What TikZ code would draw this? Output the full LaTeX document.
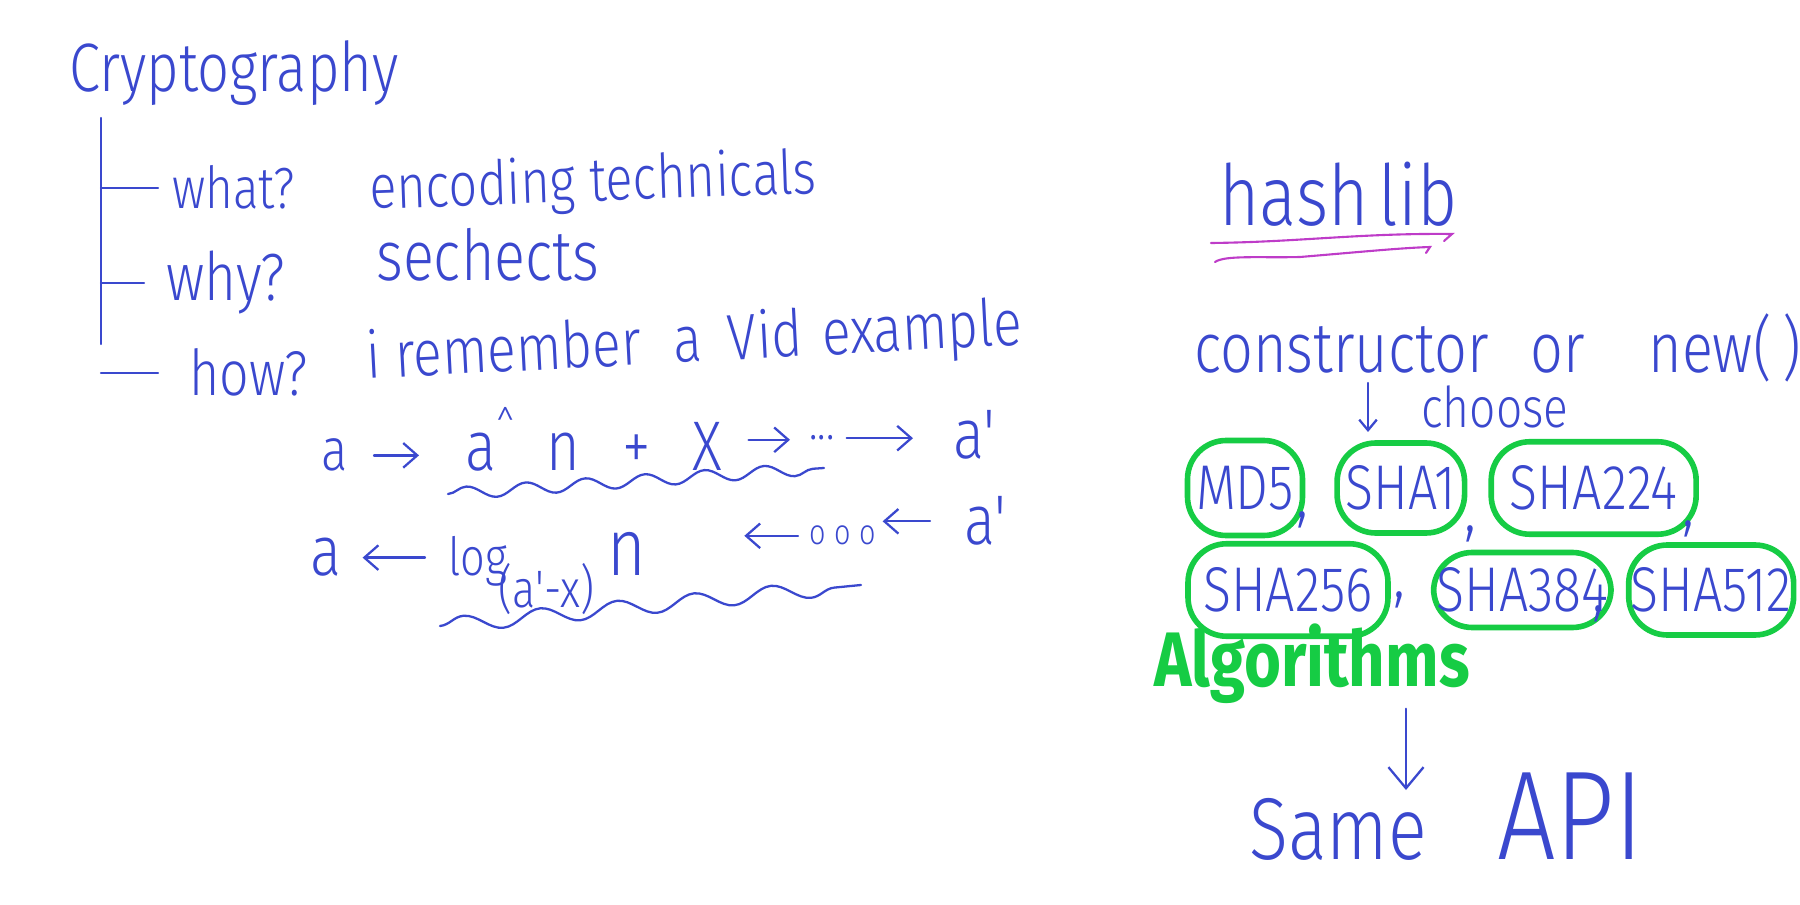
\documentclass[tikz,border=0pt]{standalone}
\usepackage{fontspec}
\newfontfamily\handfont{Fira Sans}[UprightFont={* Light}, FakeStretch=0.82]
\newfontfamily\markerfont{Fira Sans}[FakeStretch=0.82]
\usetikzlibrary{positioning, arrows.meta, decorations.pathmorphing}
\definecolor{ink}{RGB}{58,72,206}
\definecolor{marker}{RGB}{22,204,68}
\definecolor{pinkpen}{RGB}{190,60,200}
\tikzset{
    hand/.style = {
        text=ink, inner sep=0pt, anchor=base west,
        font=\handfont\fontsize{#1}{#1}\selectfont
    },
    hand/.default = 36,
    greenword/.style = {
        text=marker, inner sep=0pt, anchor=base west,
        font=\markerfont\bfseries\fontsize{44}{44}\selectfont
    },
    algo/.style = {
        rectangle, draw=marker, rounded corners=22pt,
        line width=3.2pt, text=ink, inner sep=0pt,
        font=\handfont\fontsize{36}{36}\selectfont
    },
    pen/.style = {
        ink, line width=1.3pt, line cap=round
    },
    arrow/.style = {
        pen, >={Straight Barb[length=8pt, width=14pt]}, ->
    },
    wavy/.style = {
        pen, decorate,
        decoration={snake, amplitude=3.5pt, segment length=34pt}
    }
}
\begin{document}
\begin{tikzpicture}[x=0.02cm, y=-0.02cm]
\useasboundingbox (0,0) rectangle (1800,905);

% left: cryptography notes
\node (crypto) [hand=39] at (69,92) {Cryptography};
\node (what) [hand=33] at (172,209) {what?};
\node (whatnote) [hand=35, rotate=2] at (370,209) {encoding technicals};
\node (why) [hand=38] at (166,301) {why?};
\node (whynote) [hand=40] at (376,281) {sechects};
\node (how) [hand=36] at (189,396) {how?};
\node (hownote) [hand=37, rotate=3] at (367,379) {i remember\hspace{0.5em}a\hspace{0.4em}Vid\hspace{0.3em}example};

\coordinate (trunk) at (101,118);
\coordinate (trunkend) at (101,344);
\draw [pen] (trunk) -- (trunkend);
\draw [pen] (trunk |- what.west) -- ([xshift=-0.28cm]what.west);
\draw [pen] (trunk |- why.west) -- ([xshift=-0.44cm]why.west);
\draw [pen] (trunk |- how.west) -- ([xshift=-0.62cm]how.west);

% forward
\node (a1) [hand=34] at (321,471) {a};
\node (pow1) [hand=40] at (465,471) {a\raisebox{0.4em}{\fontsize{24}{24}\selectfont\textasciicircum}\hspace{0.45em}n\hspace{0.6em}+\hspace{0.6em}X};
\node (dots1) [hand=28] at (809,440) {...};
\node (ap1) [hand=40] at (953,459) {a'};
\draw [arrow, shorten <=0.52cm, shorten >=0.92cm] (a1.east) -- (a1.east -| pow1.west);
\draw [arrow, shorten <=0.52cm, shorten >=0.38cm] (pow1.east) -- (pow1.east -| dots1.west);
\draw [arrow, shorten <=0.24cm, shorten >=0.8cm] (dots1.east) -- (dots1.east -| ap1.west);
\draw [wavy] (448,494) -- (824,468);

% backward
\node (a2) [hand=40] at (310,576) {a};
\node (log2) [hand=30] at (448,576) {log\hspace{-0.15em}\raisebox{-0.6em}{(a'-x)}\hspace{0.25em}{\fontsize{46}{46}\selectfont n}};
\node (ooo2) [hand=20] at (809,545) {o\hspace{0.25em}o\hspace{0.25em}o};
\node (ap2) [hand=40] at (964,545) {a'};
\draw [arrow, shorten <=0.46cm, shorten >=0.42cm] (log2.west |- a2.east) -- (a2.east);
\draw [arrow, shorten <=0.22cm, shorten >=1.96cm] (ooo2.west) -- (ooo2.west -| log2.east);
\draw [arrow, shorten <=0.68cm, shorten >=0.12cm] (ap2.west) -- (ap2.west -| ooo2.east);
\draw [wavy, decoration={amplitude=4.5pt, segment length=44pt}] (440,626) -- (861,585);

% right: hashlib
\node (hashlib) [hand=48] at (1219,226) {hash\hspace{0.12em}lib};
\draw [pen, pinkpen, line width=1.2pt] (1211,243) .. controls (1300,242) and (1360,233) .. (1452,234) -- (1444,241);
\draw [pen, pinkpen, line width=1.2pt] (1215,262) .. controls (1225,255) and (1260,258) .. (1300,257) .. controls (1360,252) and (1400,248) .. (1430,247) -- (1426,253);

\node (ctor) [hand=40] at (1194,373) {constructor\hspace{0.6em}or\hspace{0.9em}new(\hspace{0.15em})};
\node (choose) [hand=32] at (1421,428) {choose};
\coordinate (pick) at (1368,432);
\draw [arrow, >={Straight Barb[length=6pt, width=10pt]}] (ctor.south -| pick) -- (pick);

\node (md5) [algo, minimum width=2.3cm, minimum height=1.9cm] at (1245,488) {MD5};
\node (sha1) [algo, minimum width=2.55cm, minimum height=1.8cm, right=0.58cm of md5] {SHA1};
\node (sha224) [algo, minimum width=4.1cm, minimum height=1.85cm, right=0.42cm of sha1] {SHA224};
\node (sha256) [algo, minimum width=4cm, minimum height=1.85cm] at (1288,590) {SHA256};
\node (sha384) [algo, minimum width=3.55cm, minimum height=1.5cm, right=0.8cm of sha256] {SHA384};
\node (sha512) [algo, minimum width=3.3cm, minimum height=1.8cm, right=0.24cm of sha384] {SHA512};

\node (comma1) [hand=40] at (1296,518) {,};
\node (comma2) [hand=40] at (1464,532) {,};
\node (comma3) [hand=40] at (1682,527) {,};
\node (comma4) [hand=40] at (1393,598) {,};
\node (comma5) [hand=40] at (1592,612) {,};

\node (algos) [greenword] at (1154,686) {Algorithms};
\node (api) [hand=50] at (1249,859) {Same\hspace{0.8em}{\fontsize{72}{72}\selectfont API}};
\coordinate (drop) at ([xshift=1.88cm]algos.south);
\draw [arrow, >={Straight Barb[length=12pt, width=20pt]}, shorten <=3pt, shorten >=1.38cm] (drop) -- (drop |- api.base);

\end{tikzpicture}
\end{document}
